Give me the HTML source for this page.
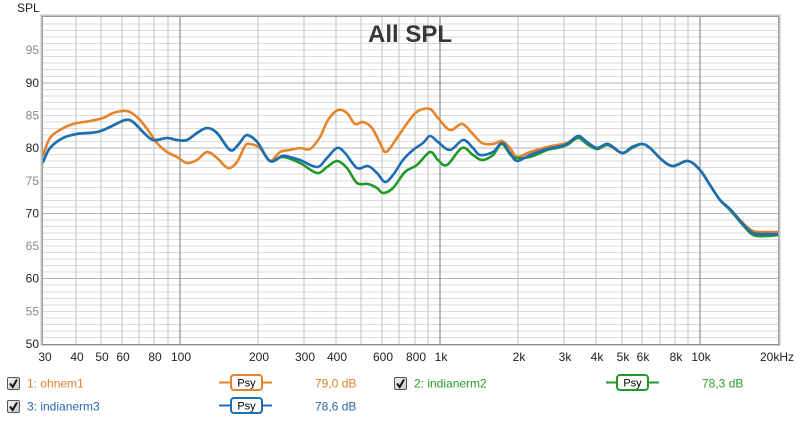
<!DOCTYPE html>
<html><head><meta charset="utf-8">
<style>
html,body{margin:0;padding:0;background:#fff;}
svg{display:block;font-family:"Liberation Sans",Arial,sans-serif;}
</style></head>
<body>
<svg id="s" width="800" height="421" viewBox="0 0 800 421" xmlns="http://www.w3.org/2000/svg">
<defs>
<clipPath id="cp"><rect x="43" y="17" width="735" height="327"/></clipPath>
<linearGradient id="cb" x1="0" y1="0" x2="1" y2="1"><stop offset="0" stop-color="#f4f4f4"/><stop offset="1" stop-color="#c8c8c8"/></linearGradient>
</defs>
<rect width="800" height="421" fill="#fff"/>
<!-- frame -->
<rect x="40.5" y="14.5" width="740" height="331" fill="none" stroke="#e2e2e2"/>
<rect x="41.5" y="15.5" width="738" height="329.5" fill="none" stroke="#c4c4c4"/>
<rect x="42.5" y="16.5" width="736" height="328" fill="#fff" stroke="#9a9a9a"/>
<g shape-rendering="crispEdges" stroke-width="1">
<g stroke="#dcdcdc">
<line x1="43" x2="778" y1="337.47" y2="337.47"/><line x1="43" x2="778" y1="330.94" y2="330.94"/><line x1="43" x2="778" y1="324.41" y2="324.41"/><line x1="43" x2="778" y1="317.88" y2="317.88"/><line x1="43" x2="778" y1="311.35" y2="311.35"/><line x1="43" x2="778" y1="304.82" y2="304.82"/><line x1="43" x2="778" y1="298.29" y2="298.29"/><line x1="43" x2="778" y1="291.76" y2="291.76"/><line x1="43" x2="778" y1="285.23" y2="285.23"/>
<line x1="43" x2="778" y1="272.17" y2="272.17"/><line x1="43" x2="778" y1="265.64" y2="265.64"/><line x1="43" x2="778" y1="259.11" y2="259.11"/><line x1="43" x2="778" y1="252.58" y2="252.58"/><line x1="43" x2="778" y1="246.05" y2="246.05"/><line x1="43" x2="778" y1="239.52" y2="239.52"/><line x1="43" x2="778" y1="232.99" y2="232.99"/><line x1="43" x2="778" y1="226.46" y2="226.46"/><line x1="43" x2="778" y1="219.93" y2="219.93"/>
<line x1="43" x2="778" y1="206.87" y2="206.87"/><line x1="43" x2="778" y1="200.34" y2="200.34"/><line x1="43" x2="778" y1="193.81" y2="193.81"/><line x1="43" x2="778" y1="187.28" y2="187.28"/><line x1="43" x2="778" y1="180.75" y2="180.75"/><line x1="43" x2="778" y1="174.22" y2="174.22"/><line x1="43" x2="778" y1="167.69" y2="167.69"/><line x1="43" x2="778" y1="161.16" y2="161.16"/><line x1="43" x2="778" y1="154.63" y2="154.63"/>
<line x1="43" x2="778" y1="141.57" y2="141.57"/><line x1="43" x2="778" y1="135.04" y2="135.04"/><line x1="43" x2="778" y1="128.51" y2="128.51"/><line x1="43" x2="778" y1="121.98" y2="121.98"/><line x1="43" x2="778" y1="115.45" y2="115.45"/><line x1="43" x2="778" y1="108.92" y2="108.92"/><line x1="43" x2="778" y1="102.39" y2="102.39"/><line x1="43" x2="778" y1="95.86" y2="95.86"/><line x1="43" x2="778" y1="89.33" y2="89.33"/>
<line x1="43" x2="778" y1="76.27" y2="76.27"/><line x1="43" x2="778" y1="69.74" y2="69.74"/><line x1="43" x2="778" y1="63.21" y2="63.21"/><line x1="43" x2="778" y1="56.68" y2="56.68"/><line x1="43" x2="778" y1="50.15" y2="50.15"/><line x1="43" x2="778" y1="43.62" y2="43.62"/><line x1="43" x2="778" y1="37.09" y2="37.09"/><line x1="43" x2="778" y1="30.56" y2="30.56"/><line x1="43" x2="778" y1="24.03" y2="24.03"/>
</g>
<g stroke="#b4b4b4">
<line x1="43" x2="778" y1="278.7" y2="278.7"/><line x1="43" x2="778" y1="213.4" y2="213.4"/><line x1="43" x2="778" y1="148.1" y2="148.1"/><line x1="43" x2="778" y1="82.8" y2="82.8"/>
</g>
<g stroke="#c2c2c2">
<line y1="17" y2="344" x1="76" x2="76"/><line y1="17" y2="344" x1="101" x2="101"/><line y1="17" y2="344" x1="122" x2="122"/><line y1="17" y2="344" x1="139" x2="139"/><line y1="17" y2="344" x1="154" x2="154"/><line y1="17" y2="344" x1="168" x2="168"/>
<line y1="17" y2="344" x1="258" x2="258"/><line y1="17" y2="344" x1="304" x2="304"/><line y1="17" y2="344" x1="336" x2="336"/><line y1="17" y2="344" x1="361" x2="361"/><line y1="17" y2="344" x1="382" x2="382"/><line y1="17" y2="344" x1="399" x2="399"/><line y1="17" y2="344" x1="415" x2="415"/><line y1="17" y2="344" x1="428" x2="428"/>
<line y1="17" y2="344" x1="518" x2="518"/><line y1="17" y2="344" x1="564" x2="564"/><line y1="17" y2="344" x1="596" x2="596"/><line y1="17" y2="344" x1="622" x2="622"/><line y1="17" y2="344" x1="642" x2="642"/><line y1="17" y2="344" x1="660" x2="660"/><line y1="17" y2="344" x1="675" x2="675"/><line y1="17" y2="344" x1="688" x2="688"/>
</g>
<g stroke="#7a7a7a">
<line y1="17" y2="344" x1="180" x2="180"/><line y1="17" y2="344" x1="440" x2="440"/><line y1="17" y2="344" x1="700" x2="700"/>
</g>
<line x1="43" x2="779" y1="344.5" y2="344.5" stroke="#8a8a8a"/>
</g>

<!-- title -->
<text x="410" y="42" font-size="24" font-weight="bold" fill="#383838" text-anchor="middle">All SPL</text>

<!-- curves -->
<g clip-path="url(#cp)" fill="none" stroke-width="2.6" stroke-linejoin="round" stroke-linecap="round">
<polyline class="c" stroke="#e6842a" points="43,155 50,138 60,130 73,124 90,121 103,118 113,113 123,111 130,112 140,120 150,133 157,143 167,152 177,157 187,163 197,160 207,152 217,158 228,168 237,162 245,146 250,144 260,148 270,161 280,152 290,150 300,148 310,149 320,137 328,120 338,110 347,113 355,124 363,122 372,128 380,143 386,152 397,138 408,122 418,111 430,109 438,118 450,130 462,124 472,133 482,143 493,144 502,141 510,148 517,157 530,152 547,147 557,145 567,143 578,137 587,142 597,148 608,144 622,153 632,147 642,144 650,148 662,160 673,166 688,161 700,170 710,185 720,200 730,209 742,222 753,231 767,232 778,232"/>
<polyline class="c" stroke="#22992a" points="43,162 50,148 63,138 77,134 97,132 110,127 125,120 133,122 143,132 153,140 167,138 177,140 187,140 197,133 207,128 217,133 230,150 238,145 245,136 250,136 258,143 270,161 283,157 300,163 317,173 327,167 337,161 347,168 357,183 368,184 377,188 383,193 393,188 405,172 417,165 430,152 438,160 447,165 462,148 473,155 482,160 493,155 502,144 513,157 530,157 547,150 557,148 567,145 578,138 587,144 597,149 608,145 622,153 632,148 642,144 650,148 662,160 673,166 688,161 700,170 710,185 720,200 730,210 742,224 753,235 767,236 778,235"/>
<polyline class="c" stroke="#1f6db5" points="43,162 50,148 63,138 77,134 97,132 110,127 125,120 133,122 143,132 153,140 167,138 177,140 187,140 197,133 207,128 217,133 230,150 238,145 245,136 250,136 258,143 270,161 282,156 290,157 300,160 317,167 327,158 337,148 345,153 357,168 368,166 377,173 385,182 393,175 403,160 413,150 423,143 430,136 438,142 450,150 463,140 473,148 480,155 493,152 502,143 510,153 517,161 530,155 547,149 557,147 567,144 578,136 587,142 597,148 608,144 622,153 632,147 642,144 650,148 662,160 673,166 688,161 700,170 710,185 720,200 730,209 742,223 753,233 767,234 778,234"/>
</g>

<!-- axis labels -->
<text x="17" y="12" font-size="12" fill="#222">SPL</text>
<g font-size="12" text-anchor="end">
<text x="39" y="348" fill="#222">50</text>
<text x="39" y="315.4" fill="#888">55</text>
<text x="39" y="282.7" fill="#222">60</text>
<text x="39" y="250" fill="#888">65</text>
<text x="39" y="217.4" fill="#222">70</text>
<text x="39" y="184.8" fill="#888">75</text>
<text x="39" y="152.1" fill="#222">80</text>
<text x="39" y="119.5" fill="#888">85</text>
<text x="39" y="86.8" fill="#222">90</text>
<text x="39" y="54.2" fill="#888">95</text>
</g>
<g font-size="12" text-anchor="middle" fill="#222">
<text x="45" y="361">30</text>
<text x="77" y="361">40</text>
<text x="102" y="361">50</text>
<text x="123" y="361">60</text>
<text x="155" y="361">80</text>
<text x="181" y="361">100</text>
<text x="259" y="361">200</text>
<text x="305" y="361">300</text>
<text x="337" y="361">400</text>
<text x="383" y="361">600</text>
<text x="416" y="361">800</text>
<text x="441" y="361">1k</text>
<text x="519" y="361">2k</text>
<text x="565" y="361">3k</text>
<text x="597" y="361">4k</text>
<text x="623" y="361">5k</text>
<text x="643" y="361">6k</text>
<text x="676" y="361">8k</text>
<text x="701" y="361">10k</text>
<text x="777" y="361">20kHz</text>
</g>

<!-- legend -->
<g>
<rect x="7.5" y="377.5" width="12" height="12" rx="1.5" fill="url(#cb)" stroke="#555"/>
<path d="M10 383.5 L12.7 387 L17 379.5" fill="none" stroke="#111" stroke-width="2"/>
<text x="27" y="387.5" font-size="12" fill="#e0802a">1: ohnem1</text>
<line x1="219" x2="272" y1="382.5" y2="382.5" stroke="#e6842a" stroke-width="2"/>
<rect x="231" y="375" width="31" height="15" rx="3" fill="#fff" stroke="#e6842a" stroke-width="2"/>
<text x="246.5" y="386.5" font-size="11" text-anchor="middle" fill="#000">Psy</text>
<text x="315" y="387.5" font-size="12" fill="#e0802a">79,0 dB</text>

<rect x="394.5" y="377.5" width="12" height="12" rx="1.5" fill="url(#cb)" stroke="#555"/>
<path d="M397 383.5 L399.7 387 L404 379.5" fill="none" stroke="#111" stroke-width="2"/>
<text x="414" y="387.5" font-size="12" fill="#2a9a2a">2: indianerm2</text>
<line x1="606" x2="659" y1="382.5" y2="382.5" stroke="#22992a" stroke-width="2"/>
<rect x="617" y="375" width="31" height="15" rx="3" fill="#fff" stroke="#22992a" stroke-width="2"/>
<text x="632.5" y="386.5" font-size="11" text-anchor="middle" fill="#000">Psy</text>
<text x="702" y="387.5" font-size="12" fill="#2a9a2a">78,3 dB</text>

<rect x="7.5" y="400.5" width="12" height="12" rx="1.5" fill="url(#cb)" stroke="#555"/>
<path d="M10 406.5 L12.7 410 L17 402.5" fill="none" stroke="#111" stroke-width="2"/>
<text x="27" y="410.5" font-size="12" fill="#2a68b0">3: indianerm3</text>
<line x1="219" x2="272" y1="405.5" y2="405.5" stroke="#1f6db5" stroke-width="2"/>
<rect x="231" y="398" width="31" height="15" rx="3" fill="#fff" stroke="#1f6db5" stroke-width="2"/>
<text x="246.5" y="409.5" font-size="11" text-anchor="middle" fill="#000">Psy</text>
<text x="315" y="410.5" font-size="12" fill="#2a68b0">78,6 dB</text>
</g>
</svg>
<script>
(function(){
var NS="http://www.w3.org/2000/svg";
var pls=document.querySelectorAll("polyline.c");
for(var k=0;k<pls.length;k++){
var pl=pls[k];
var p=pl.getAttribute("points").trim().split(/\s+/).map(function(s){return s.split(",").map(Number);});
var d="M"+p[0][0]+","+p[0][1];
for(var i=0;i<p.length-1;i++){
var p0=p[i-1]||p[i],p1=p[i],p2=p[i+1],p3=p[i+2]||p2;
var c1x=p1[0]+(p2[0]-p0[0])/6,c1y=p1[1]+(p2[1]-p0[1])/6;
var c2x=p2[0]-(p3[0]-p1[0])/6,c2y=p2[1]-(p3[1]-p1[1])/6;
d+=" C"+c1x.toFixed(2)+","+c1y.toFixed(2)+" "+c2x.toFixed(2)+","+c2y.toFixed(2)+" "+p2[0]+","+p2[1];
}
var path=document.createElementNS(NS,"path");
path.setAttribute("d",d);
path.setAttribute("stroke",pl.getAttribute("stroke"));
pl.parentNode.replaceChild(path,pl);
}
})();
</script>
</body></html>
